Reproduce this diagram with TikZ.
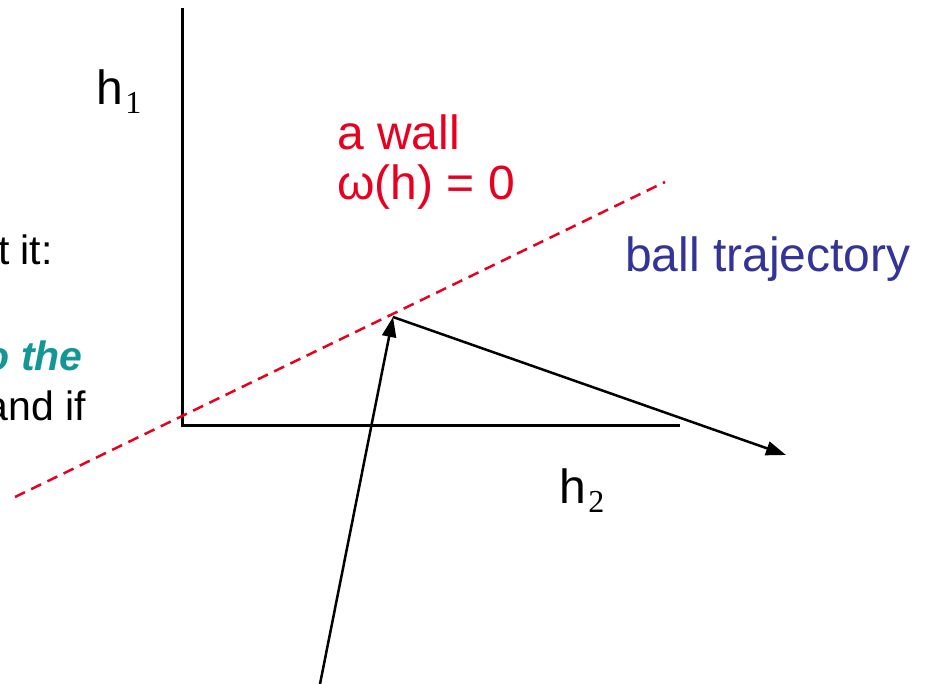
\documentclass[tikz,border=0pt]{standalone}
\usepackage{fontspec}
\setmainfont{Liberation Sans}
\newfontfamily\idxfont{Liberation Serif}
\usetikzlibrary{arrows.meta}

\definecolor{wallred}{RGB}{232,0,32}
\definecolor{trajblue}{RGB}{51,51,153}
\definecolor{slideteal}{RGB}{20,150,150}

\begin{document}
\begin{tikzpicture}[
        x=1pt, y=-1pt,
        >={Triangle[length=20pt,width=14pt]},
        axisline/.style={line width=3pt},
        wallline/.style={wallred,line width=2.5pt,dash pattern=on 11pt off 7pt},
        trajline/.style={line width=2.5pt,->},
        bigtext/.style={inner sep=0pt,font=\fontsize{48}{58}\selectfont},
        slidetext/.style={inner sep=0pt,anchor=base east,font=\fontsize{41}{50}\selectfont},
        idx/.style={inner sep=0pt,font=\idxfont\fontsize{32}{36}\selectfont}
    ]

\useasboundingbox (0,0) rectangle (928,684);

% axes
\coordinate (O) at (182,425);
\coordinate (top) at (182,8);
\coordinate (right) at (680,425);
\draw[axisline] (top) -- (O) -- (right);

\node[bigtext,anchor=base west] (h1) at (96,105) {h};
\node[idx,anchor=base west] (h1i) at (h1.base east) [yshift=-9pt,xshift=2pt] {1};
\node[bigtext,anchor=base west] (h2) at (559,503) {h};
\node[idx,anchor=base west] (h2i) at (h2.base east) [yshift=-9pt,xshift=2pt] {2};

% the wall
\coordinate (wallA) at (15,497);
\coordinate (wallB) at (665,182);
\draw[wallline] (wallA) -- (wallB);

\node[bigtext,text=wallred,anchor=base west] (wall) at (337,150) {a wall};
\node[bigtext,text=wallred,anchor=base west] (omega) at (337,200) {ω(h) = 0};

% ball in and out
\coordinate (start) at (320,684);
\coordinate (hit) at (393,317);
\coordinate (out) at (786,455);
\draw[trajline] (start) -- (hit);
\draw[trajline] (hit) -- (out);

\node[bigtext,text=trajblue,anchor=base west] (traj) at (625,272) {ball trajectory};

% slide text cut at the left edge
\node[slidetext] (txtA) at (53,265) {t it:};
\node[slidetext,text=slideteal,font=\fontsize{41}{50}\selectfont\bfseries\itshape] (txtB) at (83,370) {o the};
\node[slidetext] (txtC) at (86,420) {and if};

\end{tikzpicture}
\end{document}
